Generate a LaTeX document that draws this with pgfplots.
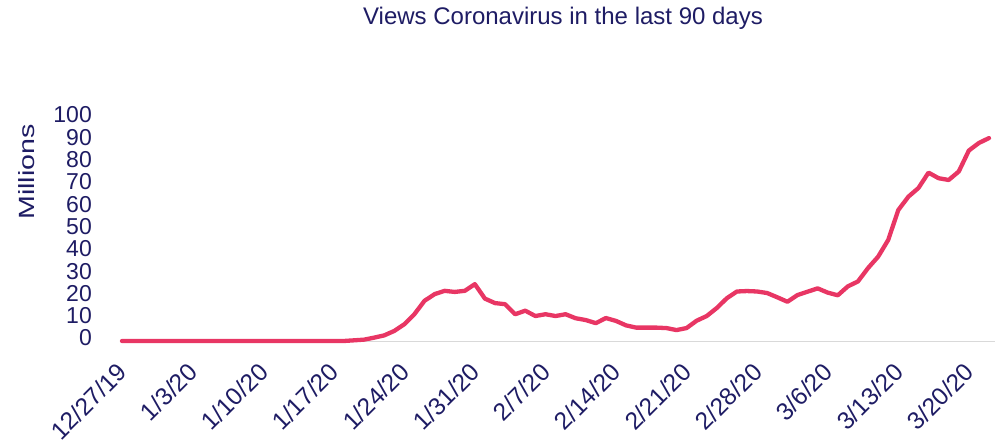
\documentclass[border=0pt]{standalone}
\usepackage{pgfplots}
\pgfplotsset{compat=1.18}
\usepackage{graphicx}
\usepackage{fontspec}
\setmainfont{Liberation Sans}
\definecolor{navy}{RGB}{30,28,100}
\definecolor{rose}{RGB}{232,54,100}

% day (0 = 12/27/19), views in millions
\pgfplotstableread{
day views
0 0
1 0
2 0
3 0
4 0
5 0
6 0
7 0
8 0
9 0
10 0
11 0
12 0
13 0
14 0
15 0
16 0
17 0
18 0
19 0
20 0
21 0
22 0
23 0.3
24 0.6
25 1.5
26 2.5
27 4.5
28 7.5
29 12
30 18
31 21
32 22.5
33 22
34 22.5
35 25.5
36 19
37 17
38 16.5
39 12
40 13.6
41 11.2
42 12
43 11.2
44 12
45 10.2
46 9.4
47 8
48 10.3
49 9
50 7
51 6
52 6
53 6
54 5.8
55 4.9
56 5.8
57 9.1
58 11.2
59 14.8
60 19.2
61 22.2
62 22.4
63 22.2
64 21.5
65 19.6
66 17.6
67 20.6
68 22.1
69 23.6
70 21.7
71 20.5
72 24.5
73 26.7
74 32.7
75 37.8
76 45.3
77 58.7
78 64.7
79 68.6
80 75.5
81 73
82 72.2
83 76
84 85.4
85 88.8
86 91
}\views

\begin{document}
\begin{tikzpicture}
\begin{axis}[
  at={(122bp,107bp)}, anchor=south west,
  width=867bp, height=223bp, scale only axis,
  xmin=0, xmax=86, ymin=0, ymax=100,
  axis line style={draw=none},
  major tick length=0pt,
  clip=false,
  xtick={0,7,...,84},
  xticklabels={12/27/19,1/3/20,1/10/20,1/17/20,1/24/20,1/31/20,2/7/20,2/14/20,2/21/20,2/28/20,3/6/20,3/13/20,3/20/20},
  ytick={0,10,...,100},
  /pgf/number format/assume math mode=true,
  ticklabel style={text=navy},
  yticklabel style={font=\fontsize{23bp}{23bp}\selectfont, anchor=east, inner sep=0pt, xshift=-30bp, yshift=3bp},
  xticklabel style={font=\fontsize{24.5bp}{24.5bp}\selectfont, inner sep=0pt, xshift=-6bp, yshift=-20bp, rotate=45, anchor=north east},
]
\draw[black!15, line width=1bp] (axis cs:-0.2,0) -- (axis cs:86.6,0);
\addplot[rose, line width=4.3bp, line join=round, line cap=round] table[x=day, y=views] {\views};
\end{axis}
\node[navy, font=\fontsize{24bp}{28bp}\selectfont] at (563bp,430bp) {Views Coronavirus in the last 90 days};
\node[navy, rotate=90, font=\fontsize{22bp}{26bp}\selectfont] at (27bp,276bp) {\scalebox{1.3}[1]{Millions}};
\pgfresetboundingbox
\useasboundingbox (0,0) rectangle (996bp,448bp);
\end{tikzpicture}
\end{document}
